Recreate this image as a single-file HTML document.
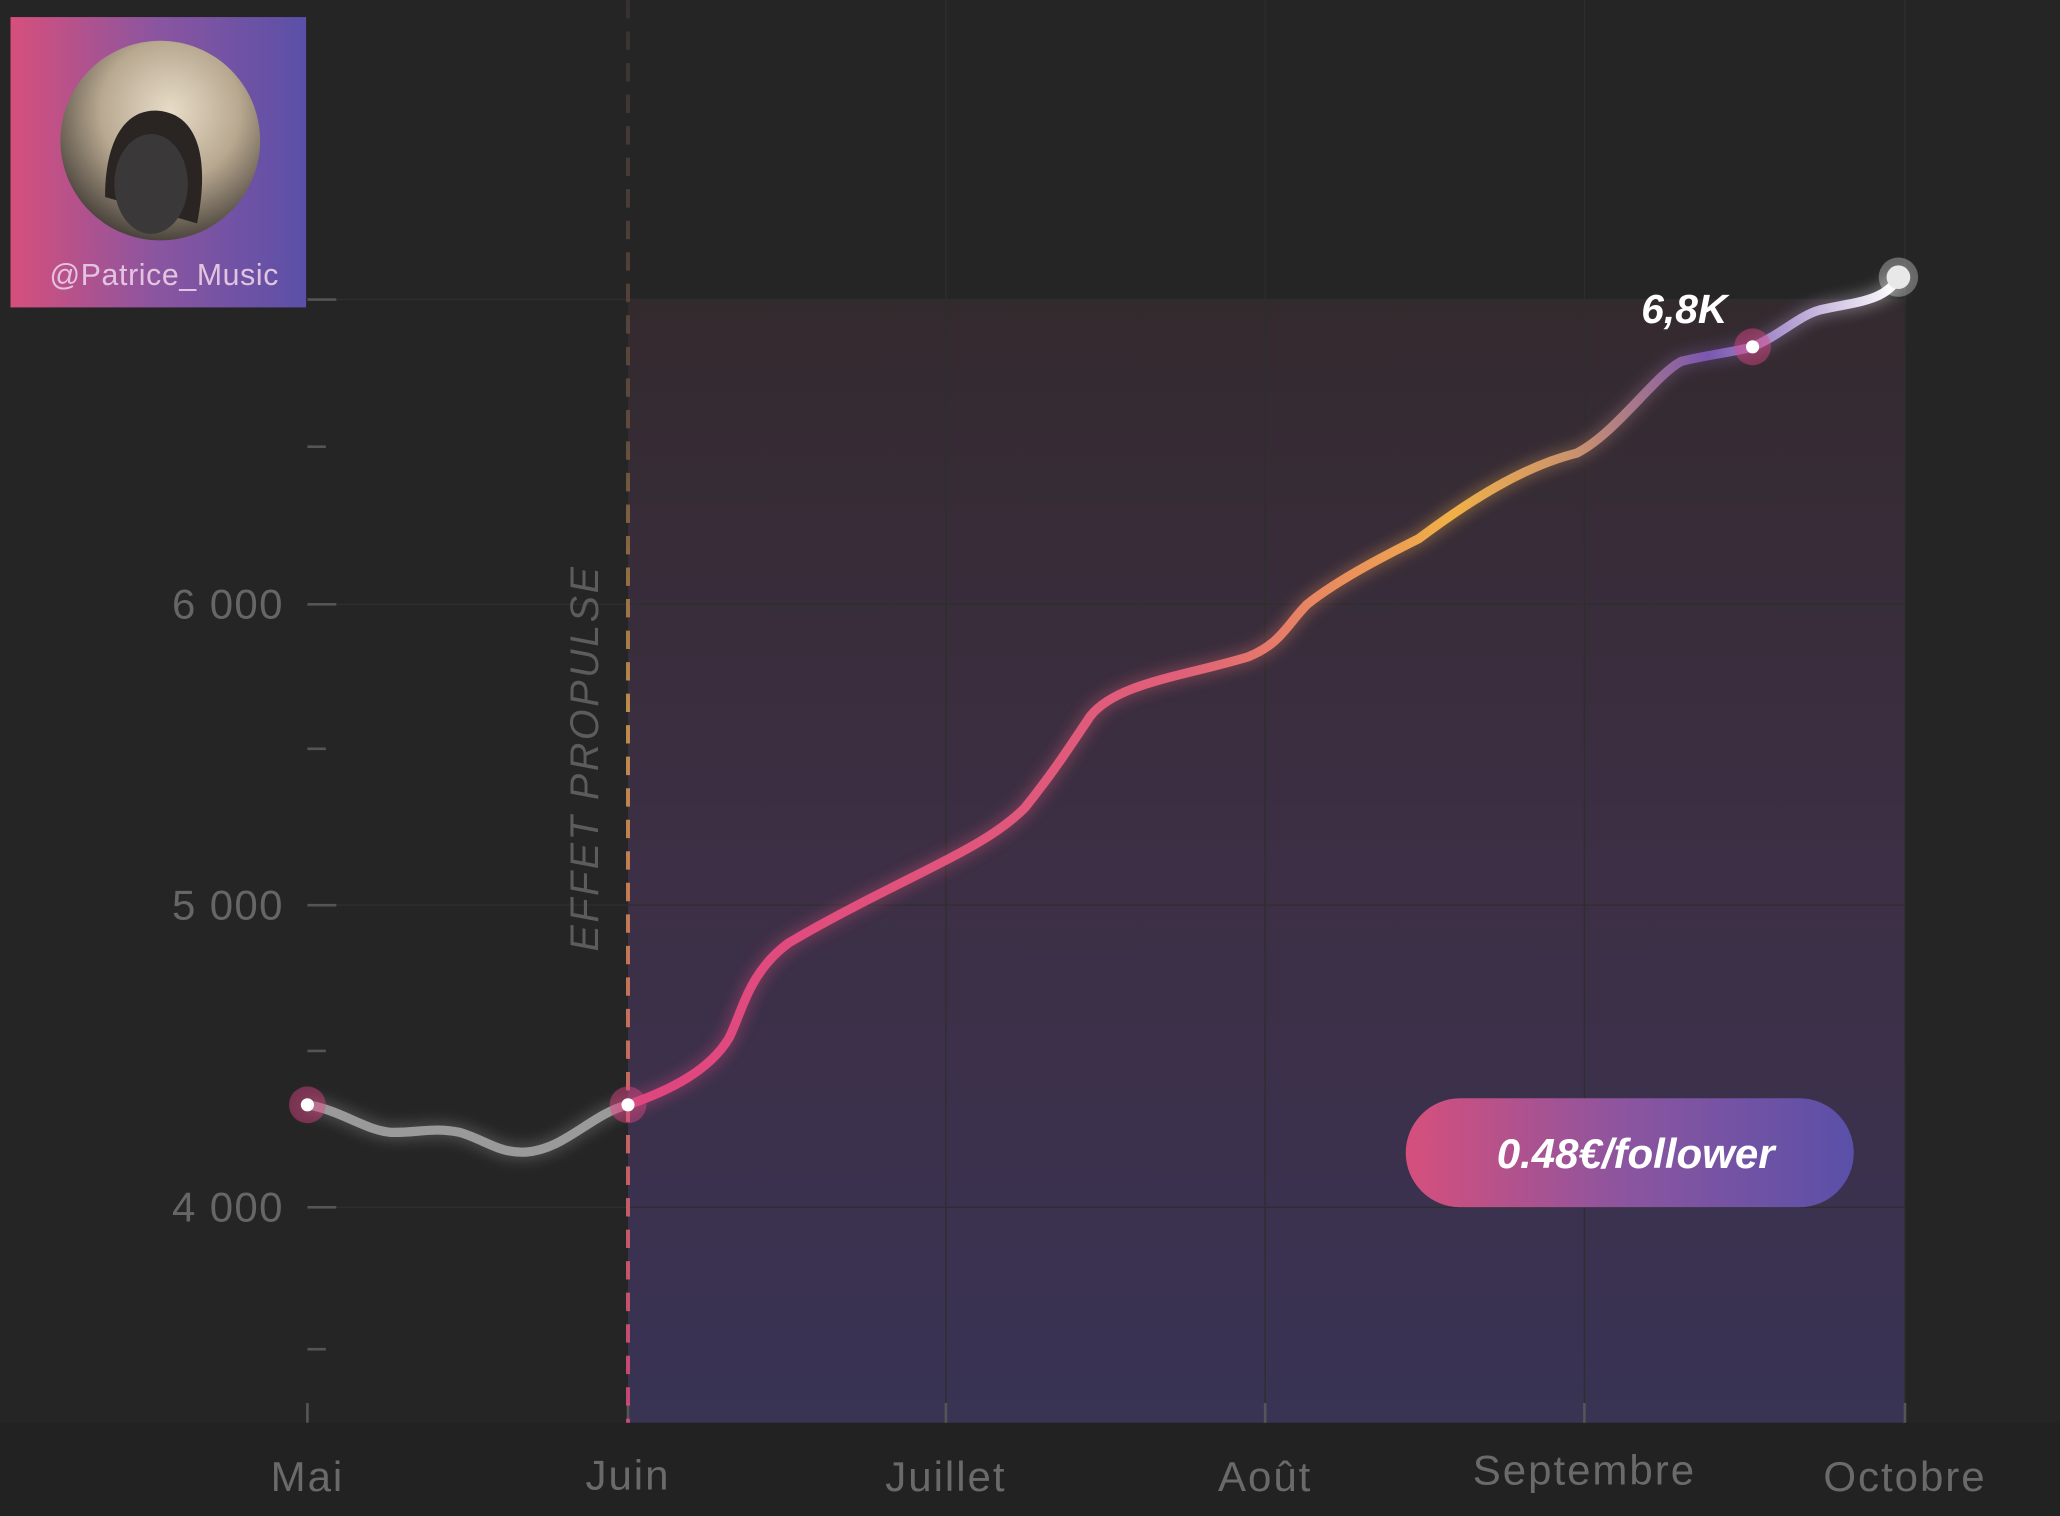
<!DOCTYPE html>
<html><head><style>
html,body{margin:0;padding:0;background:#252525;}
svg{display:block;}
text{font-family:"Liberation Sans",sans-serif;}
</style></head><body>
<svg width="2060" height="1516" viewBox="0 0 1568 1154" preserveAspectRatio="none" xmlns="http://www.w3.org/2000/svg">
<defs>
<linearGradient id="card" x1="0" y1="0" x2="1" y2="0"><stop offset="0" stop-color="#d64f7c"/><stop offset="0.5" stop-color="#8a55a0"/><stop offset="1" stop-color="#5a50a8"/></linearGradient>
<linearGradient id="area" x1="0" y1="0" x2="0" y2="1"><stop offset="0" stop-color="#332a2e"/><stop offset="0.5" stop-color="#3d2f45"/><stop offset="1" stop-color="#393354"/></linearGradient>
<linearGradient id="dash" gradientUnits="userSpaceOnUse" x1="0" y1="0" x2="0" y2="1083">
<stop offset="0" stop-color="#3a3434"/><stop offset="0.3" stop-color="#6a5040"/><stop offset="0.5" stop-color="#d8a050"/><stop offset="0.7" stop-color="#e08060"/><stop offset="1" stop-color="#e04a80"/></linearGradient>
<linearGradient id="line" gradientUnits="userSpaceOnUse" x1="234" y1="0" x2="1445" y2="0">
<stop offset="0" stop-color="#9a9a9a"/><stop offset="0.19" stop-color="#9a9a9a"/><stop offset="0.21" stop-color="#e0457f"/><stop offset="0.55" stop-color="#e0607a"/><stop offset="0.72" stop-color="#f0b048"/><stop offset="0.8" stop-color="#c89070"/><stop offset="0.88" stop-color="#7a56b0"/><stop offset="1" stop-color="#ffffff"/></linearGradient>
<radialGradient id="photo" cx="0.55" cy="0.35" r="0.7"><stop offset="0" stop-color="#e8dcc8"/><stop offset="0.5" stop-color="#b8a890"/><stop offset="1" stop-color="#3a3530"/></radialGradient>
<filter id="glow" x="-20%" y="-20%" width="140%" height="140%"><feGaussianBlur stdDeviation="6"/></filter>
</defs>
<rect x="0" y="0" width="1568" height="1154" fill="#252525"/>
<rect x="0" y="1083" width="1568" height="71" fill="#222"/>
<rect x="478" y="228" width="972" height="855" fill="url(#area)"/>
<g stroke="#2e2e2e" stroke-width="1">
<line x1="234" y1="228" x2="1450" y2="228"/><line x1="234" y1="460" x2="1450" y2="460"/><line x1="234" y1="689" x2="1450" y2="689"/><line x1="234" y1="919" x2="1450" y2="919"/>
<line x1="720" y1="0" x2="720" y2="1083"/><line x1="963" y1="0" x2="963" y2="1083"/><line x1="1206" y1="0" x2="1206" y2="1083"/><line x1="1450" y1="0" x2="1450" y2="1083"/>
</g>
<g stroke="#555" stroke-width="2">
<line x1="234" y1="228" x2="256" y2="228"/><line x1="234" y1="340" x2="248" y2="340"/><line x1="234" y1="460" x2="256" y2="460"/><line x1="234" y1="570" x2="248" y2="570"/><line x1="234" y1="689" x2="256" y2="689"/><line x1="234" y1="800" x2="248" y2="800"/><line x1="234" y1="919" x2="256" y2="919"/><line x1="234" y1="1027" x2="248" y2="1027"/>
<line x1="234" y1="1068" x2="234" y2="1083"/><line x1="478" y1="1068" x2="478" y2="1083"/><line x1="720" y1="1068" x2="720" y2="1083"/><line x1="963" y1="1068" x2="963" y2="1083"/><line x1="1206" y1="1068" x2="1206" y2="1083"/><line x1="1450" y1="1068" x2="1450" y2="1083"/>
</g>
<line x1="478" y1="0" x2="478" y2="1083" stroke="url(#dash)" stroke-width="3" stroke-dasharray="14 10" opacity="0.85"/>
<g fill="#666" font-size="32" text-anchor="end" letter-spacing="1">
<text x="216" y="471">6 000</text><text x="216" y="700">5 000</text><text x="216" y="930">4 000</text></g>
<g fill="#6a6a6a" font-size="32" text-anchor="middle" letter-spacing="1.5">
<text x="234" y="1135">Mai</text><text x="478" y="1134">Juin</text><text x="720" y="1135">Juillet</text><text x="963" y="1135">Août</text><text x="1206" y="1130">Septembre</text><text x="1450" y="1135">Octobre</text></g>
<text transform="translate(455,577) rotate(-90)" text-anchor="middle" fill="#5c5c5c" font-size="30" font-style="italic" letter-spacing="2">EFFET PROPULSE</text>
<path id="p" d="M234,841 C260,845 280,862 300,862 C320,862 330,858 350,862 C370,868 380,878 400,877 C430,875 450,848 478,841 C510,830 540,815 555,790 C565,770 570,740 600,718 C630,700 670,680 700,665 C730,650 760,635 780,615 C800,590 810,575 830,545 C850,520 900,515 950,500 C975,490 980,475 995,460 C1020,440 1060,420 1080,410 C1120,380 1160,355 1200,345 C1230,330 1260,285 1280,275 C1300,270 1320,268 1334,264 C1355,255 1370,240 1385,236 C1410,230 1435,230 1445,211" fill="none" stroke="url(#line)" stroke-width="7" stroke-linecap="round"/>
<use href="#p" filter="url(#glow)" opacity="0.6"/>
<circle cx="234" cy="841" r="14" fill="#e04585" opacity="0.45"/><circle cx="234" cy="841" r="5" fill="#fff"/>
<circle cx="478" cy="841" r="14" fill="#e04585" opacity="0.45"/><circle cx="478" cy="841" r="5" fill="#fff"/>
<circle cx="1334" cy="264" r="14" fill="#e04585" opacity="0.45"/><circle cx="1334" cy="264" r="5" fill="#fff"/>
<circle cx="1445" cy="211" r="15" fill="#fff" opacity="0.3"/><circle cx="1445" cy="211" r="9" fill="#e8e8e8"/>
<text x="1282" y="246" text-anchor="middle" fill="#fff" font-size="31" font-weight="bold" font-style="italic">6,8K</text>
<rect x="1070" y="836" width="341" height="83" rx="41.5" fill="url(#card)"/>
<text x="1245" y="889" text-anchor="middle" fill="#fff" font-size="32" font-weight="bold" font-style="italic">0.48€/follower</text>
<rect x="8" y="13" width="225" height="221" fill="url(#card)"/>
<circle cx="122" cy="107" r="76" fill="url(#photo)"/>
<path d="M80,150 C80,100 100,80 125,85 C150,90 160,120 150,170 Z" fill="#2a2522"/>
<ellipse cx="115" cy="140" rx="28" ry="38" fill="#3a3838"/>
<text x="125" y="217" text-anchor="middle" fill="#e2c4e0" font-size="23" letter-spacing="0.5">@Patrice_Music</text>
</svg>
</body></html>
